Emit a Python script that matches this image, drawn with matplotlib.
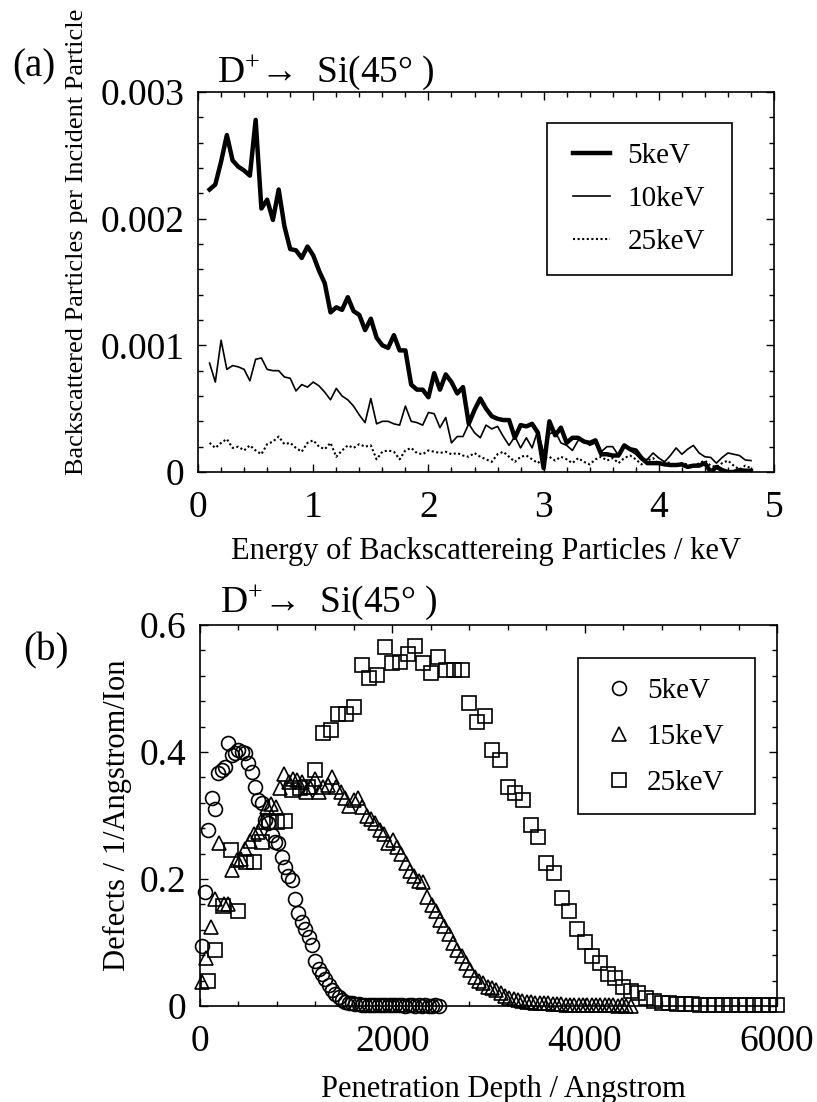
import numpy as np
import matplotlib
matplotlib.use('Agg')
import matplotlib.pyplot as plt
from matplotlib.ticker import MultipleLocator, FuncFormatter
from matplotlib.patches import Rectangle

plt.rcParams['font.family'] = ['Liberation Serif', 'DejaVu Serif']
plt.rcParams['mathtext.fontset'] = 'custom'
plt.rcParams['mathtext.rm'] = 'Liberation Serif'
plt.rcParams['mathtext.it'] = 'Liberation Serif:italic'

# (a) backscattered particle spectra, energy grid 0.10 .. 4.80 keV (values in 1e-3)
energy = np.round(np.arange(0.10, 4.8001, 0.05), 2)
bs_5kev = [2.23, 2.27, 2.45, 2.66, 2.46, 2.41, 2.38, 2.34, 2.78, 2.08,
           2.15, 1.99, 2.23, 1.94, 1.76, 1.75, 1.69, 1.78, 1.71, 1.59,
           1.49, 1.26, 1.30, 1.28, 1.38, 1.27, 1.24, 1.12, 1.21, 1.06,
           1.00, 0.98, 1.08, 0.96, 0.96, 0.69, 0.65, 0.65, 0.59, 0.78,
           0.65, 0.77, 0.71, 0.62, 0.67, 0.38, 0.49, 0.58, 0.50, 0.44,
           0.42, 0.41, 0.41, 0.27, 0.37, 0.36, 0.38, 0.31, 0.03, 0.40,
           0.29, 0.35, 0.23, 0.27, 0.27, 0.24, 0.23, 0.25, 0.14, 0.14,
           0.13, 0.13, 0.21, 0.18, 0.17, 0.11, 0.07, 0.07, 0.07, 0.06,
           0.055, 0.055, 0.06, 0.04, 0.05, 0.05, 0.07, 0.0, 0.04, 0.015,
           0.0, 0.0, 0.015, 0.01, 0.01]
bs_10kev = [0.86, 0.71, 1.04, 0.81, 0.84, 0.83, 0.81, 0.72, 0.89, 0.90,
            0.81, 0.80, 0.80, 0.75, 0.74, 0.64, 0.69, 0.67, 0.71, 0.68,
            0.63, 0.57, 0.66, 0.60, 0.57, 0.52, 0.45, 0.39, 0.58, 0.38,
            0.40, 0.40, 0.38, 0.37, 0.52, 0.40, 0.39, 0.37, 0.47, 0.46,
            0.35, 0.43, 0.23, 0.28, 0.28, 0.38, 0.31, 0.27, 0.37, 0.34,
            0.36, 0.28, 0.21, 0.28, 0.19, 0.27, 0.19, 0.33, 0.15, 0.30,
            0.32, 0.23, 0.21, 0.17, 0.25, 0.25, 0.21, 0.23, 0.16, 0.20,
            0.20, 0.13, 0.21, 0.17, 0.14, 0.095, 0.10, 0.15, 0.11, 0.08,
            0.13, 0.19, 0.14, 0.18, 0.21, 0.15, 0.12, 0.115, 0.07, 0.115,
            0.15, 0.14, 0.13, 0.095, 0.09]
bs_25kev = [0.23, 0.19, 0.23, 0.26, 0.19, 0.20, 0.17, 0.21, 0.17, 0.14,
            0.22, 0.24, 0.28, 0.22, 0.23, 0.19, 0.16, 0.23, 0.25, 0.20,
            0.18, 0.23, 0.12, 0.17, 0.21, 0.19, 0.22, 0.20, 0.21, 0.10,
            0.16, 0.17, 0.16, 0.10, 0.17, 0.19, 0.15, 0.14, 0.17, 0.16,
            0.15, 0.16, 0.14, 0.15, 0.13, 0.12, 0.15, 0.12, 0.10, 0.08,
            0.14, 0.16, 0.12, 0.08, 0.12, 0.13, 0.10, 0.07, 0.11, 0.12,
            0.09, 0.12, 0.10, 0.07, 0.11, 0.08, 0.06, 0.10, 0.12, 0.09,
            0.11, 0.07, 0.11, 0.13, 0.10, 0.06, 0.09, 0.11, 0.06, 0.08,
            0.07, 0.05, 0.07, 0.06, 0.04, 0.07, 0.09, 0.05, 0.04, 0.07,
            0.09, 0.05, 0.02, 0.05, 0.03]

# (b) defect depth profiles
depth_5 = (np.arange(72) + 0.5) * 2500 / 72
def_5kev = [0.094, 0.180, 0.278, 0.327, 0.311, 0.367, 0.372, 0.377, 0.414, 0.395,
            0.398, 0.403, 0.400, 0.398, 0.382, 0.369, 0.345, 0.324, 0.319, 0.293,
            0.288, 0.269, 0.259, 0.257, 0.235, 0.219, 0.204, 0.198, 0.168, 0.147,
            0.133, 0.121, 0.108, 0.096, 0.071, 0.059, 0.051, 0.042, 0.033, 0.025,
            0.019, 0.014, 0.009, 0.007, 0.005, 0.004, 0.003, 0.003, 0.002, 0.002,
            0.002, 0.002, 0.001, 0.001, 0.001, 0.001, 0.001, 0.001, 0.001, 0.001,
            0.001, 0.0, 0.001, 0.001, 0.0, 0.001, 0.0, 0.001, 0.0, 0.0, 0.001, 0.0]
depth_15 = (np.arange(100) + 0.5) * 45
def_15kev = [0.038, 0.075, 0.125, 0.168, 0.256, 0.160, 0.161, 0.214, 0.230, 0.232,
             0.248, 0.260, 0.271, 0.274, 0.290, 0.314, 0.318, 0.314, 0.343, 0.366,
             0.353, 0.358, 0.356, 0.353, 0.337, 0.345, 0.358, 0.337, 0.345, 0.348,
             0.361, 0.345, 0.337, 0.327, 0.315, 0.324, 0.327, 0.314, 0.300, 0.294,
             0.288, 0.278, 0.271, 0.256, 0.261, 0.251, 0.240, 0.225, 0.212, 0.205,
             0.197, 0.196, 0.172, 0.159, 0.150, 0.136, 0.126, 0.113, 0.100, 0.088,
             0.078, 0.067, 0.057, 0.046, 0.040, 0.036, 0.030, 0.028, 0.025, 0.020,
             0.015, 0.013, 0.011, 0.010, 0.008, 0.007, 0.006, 0.005, 0.005, 0.004,
             0.004, 0.003, 0.003, 0.003, 0.002, 0.002, 0.002, 0.002, 0.002, 0.001,
             0.001, 0.001, 0.001, 0.001, 0.001, 0.001, 0.0, 0.001, 0.0, 0.0]
depth_25 = np.arange(1, 76) * 80
def_25kev = [0.040, 0.088, 0.157, 0.246, 0.149, 0.227, 0.227, 0.258, 0.290, 0.290,
             0.291, 0.340, 0.343, 0.345, 0.372, 0.430, 0.435, 0.460, 0.460, 0.471,
             0.537, 0.516, 0.521, 0.565, 0.540, 0.542, 0.555, 0.567, 0.541, 0.525,
             0.550, 0.529, 0.529, 0.529, 0.477, 0.448, 0.456, 0.404, 0.387, 0.345,
             0.336, 0.325, 0.285, 0.266, 0.226, 0.209, 0.170, 0.149, 0.121, 0.101,
             0.078, 0.068, 0.051, 0.044, 0.030, 0.023, 0.020, 0.012, 0.008, 0.005,
             0.004, 0.003, 0.003, 0.003, 0.002, 0.002, 0.002, 0.002, 0.002, 0.002,
             0.001, 0.002, 0.001, 0.001, 0.001]

title = 'D$^{+}$\u2192  Si(45\u00b0 )'

fig = plt.figure(figsize=(8.17, 11.02), dpi=100)
ax1 = fig.add_axes([0.2424, 0.5717, 0.705, 0.3448])
ax2 = fig.add_axes([0.2448, 0.0871, 0.7062, 0.3457])


def style_axes(ax):
    for s in ax.spines.values():
        s.set_linewidth(1.2)
    ax.tick_params(which='both', direction='in', top=True, right=True, width=1.0)
    ax.tick_params(which='major', length=6, labelsize=27)
    ax.tick_params(which='minor', length=3.5)
    ax.tick_params(axis='y', pad=10)
    ax.tick_params(axis='x', pad=13)


# ---- panel (a)
ax1.plot(energy, np.array(bs_5kev) * 1e-3, color='black', lw=3.2, label='5keV')
ax1.plot(energy, np.array(bs_10kev) * 1e-3, color='black', lw=1.2, label='10keV')
ax1.plot(energy, np.array(bs_25kev) * 1e-3, color='black', lw=1.5, ls=(0, (1, 1.2)), label='25keV')
ax1.set_xlim(0, 5)
ax1.set_ylim(0, 0.003)
ax1.xaxis.set_major_locator(MultipleLocator(1))
ax1.xaxis.set_minor_locator(MultipleLocator(0.2))
ax1.yaxis.set_major_locator(MultipleLocator(0.001))
ax1.yaxis.set_minor_locator(MultipleLocator(0.0002))
ax1.yaxis.set_major_formatter(FuncFormatter(lambda v, p: '0' if abs(v) < 1e-9 else f'{v:.3f}'))
style_axes(ax1)
ax1.set_xlabel('Energy of Backscattereing Particles / keV', fontsize=22)
ax1.xaxis.set_label_coords(0.5, -0.17)
ax1.set_ylabel('Backscattered Particles per Incident Particle', fontsize=19)
ax1.yaxis.set_label_coords(-0.191, 0.607)
ax1.text(0.033, 1.026, title, transform=ax1.transAxes, fontsize=27, va='baseline')
ax1.add_patch(Rectangle((0.606, 0.518), 0.321, 0.400, transform=ax1.transAxes,
                        fill=False, lw=1.2, ec='black', zorder=5))
ax1.legend(loc='center', bbox_to_anchor=(0.766, 0.718), frameon=False, fontsize=21,
           handlelength=1.24, handletextpad=0.62, labelspacing=0.57, borderpad=0)

# ---- panel (b)
mk = dict(ls='none', mfc='none', mec='black', mew=1.2, ms=10, clip_on=False)
ax2.plot(depth_5, def_5kev, marker='o', label='5keV', **mk)
ax2.plot(depth_15, def_15kev, marker='^', label='15keV', **mk)
ax2.plot(depth_25, def_25kev, marker='s', label='25keV', **mk)
ax2.set_xlim(0, 6000)
ax2.set_ylim(0, 0.6)
ax2.xaxis.set_major_locator(MultipleLocator(2000))
ax2.xaxis.set_minor_locator(MultipleLocator(400))
ax2.yaxis.set_major_locator(MultipleLocator(0.2))
ax2.yaxis.set_minor_locator(MultipleLocator(0.04))
ax2.yaxis.set_major_formatter(FuncFormatter(lambda v, p: '0' if abs(v) < 1e-9 else f'{v:.1f}'))
style_axes(ax2)
ax2.set_xlabel('Penetration Depth / Angstrom', fontsize=22)
ax2.xaxis.set_label_coords(0.525, -0.18)
ax2.set_ylabel('Defects / 1/Angstrom/Ion', fontsize=22)
ax2.yaxis.set_label_coords(-0.1185, 0.5)
ax2.text(0.035, 1.034, title, transform=ax2.transAxes, fontsize=27, va='baseline')
ax2.add_patch(Rectangle((0.655, 0.504), 0.307, 0.409, transform=ax2.transAxes,
                        fill=False, lw=1.2, ec='black', zorder=5))
ax2.legend(loc='center', bbox_to_anchor=(0.805, 0.706), frameon=False, fontsize=21,
           handlelength=1.0, handletextpad=0.45, labelspacing=0.67, borderpad=0)

fig.text(12 / 817, 1 - 76 / 1102, '(a)', fontsize=28, va='baseline')
fig.text(23 / 817, 1 - 660 / 1102, '(b)', fontsize=28, va='baseline')

fig.savefig('out.png', dpi=100)
